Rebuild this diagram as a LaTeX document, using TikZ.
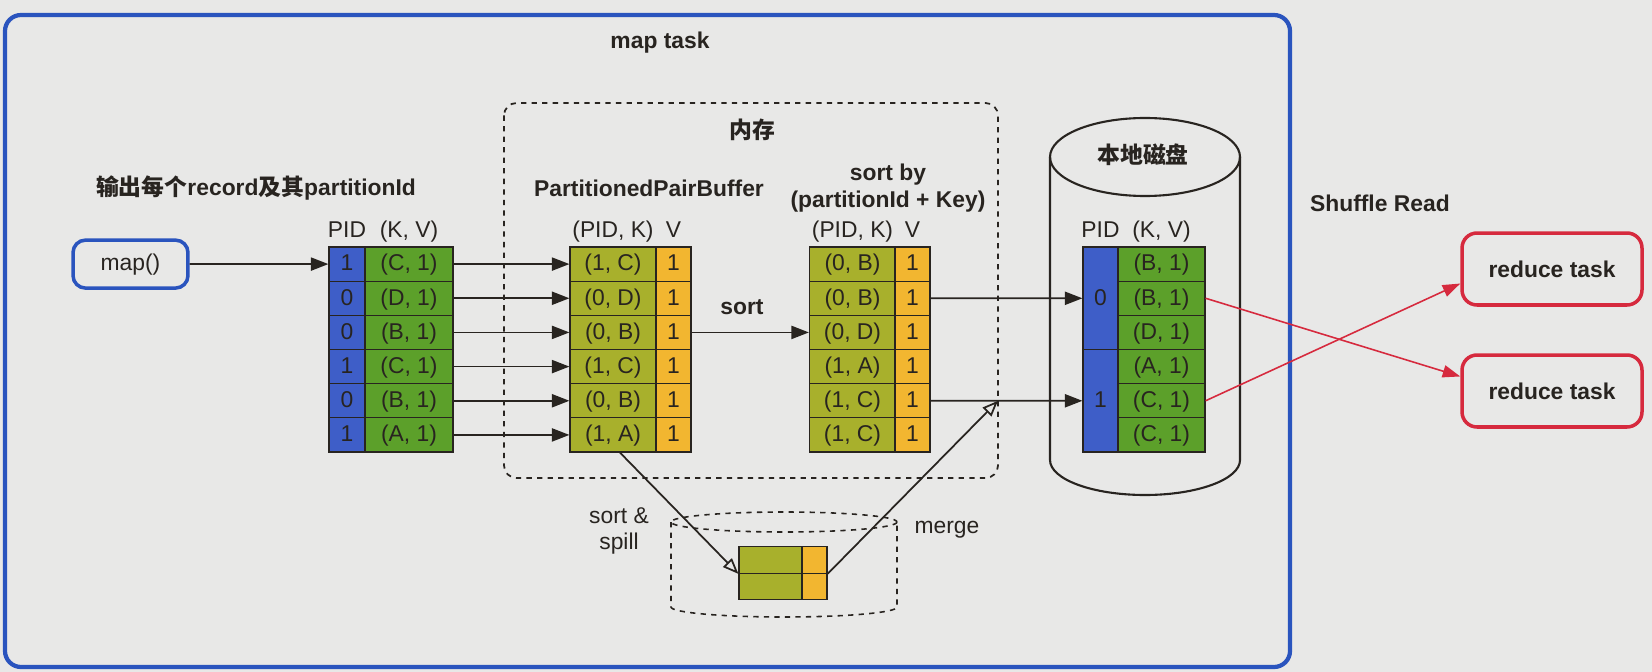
\documentclass[tikz,border=0pt]{standalone}
\usepackage{fontspec}
\setmainfont{Liberation Sans}
\newfontfamily\cjk{Noto Sans CJK SC Bold}
\usetikzlibrary{positioning,arrows.meta}
\definecolor{bgpaper}{RGB}{232,232,231}
\definecolor{frameblue}{RGB}{42,84,190}
\definecolor{pidblue}{RGB}{62,94,200}
\definecolor{kvgreen}{RGB}{92,160,42}
\definecolor{keyolive}{RGB}{168,176,44}
\definecolor{valorange}{RGB}{242,182,48}
\definecolor{taskred}{RGB}{214,42,62}
\definecolor{ink}{RGB}{40,36,32}
\tikzset{
  cell/.style={draw=ink, line width=0.7pt, inner sep=0pt, minimum height=0.683cm, text height=0.72em, text depth=0.12em, text=ink},
  pidcell/.style={cell, fill=pidblue, minimum width=0.72cm},
  kvcell/.style={cell, fill=kvgreen, minimum width=1.76cm},
  keycell/.style={cell, fill=keyolive, minimum width=1.72cm},
  valcell/.style={cell, fill=valorange, minimum width=0.70cm},
  hdr/.style={inner sep=1pt, text height=0.72em, text depth=0.22em, text=ink},
  lbl/.style={font=\bfseries, text=ink, align=center, inner sep=1pt},
  arr/.style={-{Triangle[length=10pt,width=7.5pt]}, line width=1pt, draw=ink},
  openarr/.style={-{Triangle[open,length=9pt,width=7pt,fill=bgpaper]}, line width=1pt, draw=ink},
  redarr/.style={-{Triangle[length=10pt,width=7pt]}, line width=0.9pt, draw=taskred, fill=taskred},
  taskbox/.style={draw=taskred, line width=2pt, rounded corners=0.3cm, minimum width=3.6cm, minimum height=1.44cm, font=\bfseries, text=ink}
}
\begin{document}
\fontsize{13}{15}\selectfont
\begin{tikzpicture}[x=0.02cm, y=-0.02cm]
  \useasboundingbox (0,0) rectangle (1652,672);
  \fill[bgpaper] (0,0) rectangle (1652,672);
  % frames
  \draw[frameblue, line width=2.4pt, rounded corners=0.32cm] (5,15) rectangle (1290,667);
  \draw[ink, dashed, line width=1pt, rounded corners=0.25cm] (504,103) rectangle (998,478);
  \draw[ink, line width=1.2pt] (1145,157) ellipse [x radius=95, y radius=39];
  \draw[ink, line width=1.2pt] (1050,157) -- (1050,460) arc[start angle=180, end angle=0, x radius=95, y radius=35] -- (1240,157);
  \draw[ink, dashed, line width=0.9pt] (784,522) ellipse [x radius=113, y radius=10];
  \draw[ink, dashed, line width=0.9pt] (671,522) -- (671,607) arc[start angle=180, end angle=0, x radius=113, y radius=10] -- (897,522);

  % labels
  \node[lbl] (maptask) at (660,43) {map task};
  \node[lbl] (mem) at (752,130) {\cjk 内存};
  \node[lbl] (outlbl) at (256,188) {{\cjk 输出每个}record{\cjk 及其}partitionId};
  \node[lbl] (buflbl) at (649,188) {PartitionedPairBuffer};
  \node[lbl] (sortlbl) at (888,188) {sort by\\(partitionId + Key)};
  \node[lbl] (disklbl) at (1143,155) {\cjk 本地磁盘};
  \node[lbl, anchor=west] (readlbl) at (1308,203) {Shuffle Read};
  \node[lbl] (sortop) at (742,307) {sort};
  \node[lbl, font=\mdseries] (spilllbl) at (619,531) {sort \&\\spill};
  \node[lbl, font=\mdseries] (mergelbl) at (947,530) {merge};

  \node[draw=frameblue, line width=2pt, rounded corners=0.25cm, minimum width=2.3cm, minimum height=0.96cm, text=ink] (map) at (130.5,264.1) {map()};
  \node[taskbox] (rt1) at (1552,269) {reduce task};
  \node[taskbox] (rt2) at (1552,391) {reduce task};

  % tables
  \foreach \p/\k [count=\i] in {1/C,0/D,0/B,1/C,0/B,1/A} {
    \node[pidcell] (p\i) at (347,{247+34.17*(\i-0.5)}) {\p};
    \node[kvcell] (kv\i) at (409,{247+34.17*(\i-0.5)}) {(\k, 1)};
    \node[keycell] (bk\i) at (613,{247+34.17*(\i-0.5)}) {(\p, \k)};
    \node[valcell] (bv\i) at (673.5,{247+34.17*(\i-0.5)}) {1};
  }
  \foreach \p/\k [count=\i] in {0/B,0/B,0/D,1/A,1/C,1/C} {
    \node[keycell] (sk\i) at (852.5,{247+34.17*(\i-0.5)}) {(\p, \k)};
    \node[valcell] (sv\i) at (912.5,{247+34.17*(\i-0.5)}) {1};
    \node[kvcell, minimum width=1.74cm] (dk\i) at (1161.5,{247+34.17*(\i-0.5)}) {(\k, 1)};
  }
  \node[pidcell, minimum width=0.70cm, minimum height=2.05cm] (d0) at (1100.5,298.3) {0};
  \node[pidcell, minimum width=0.70cm, minimum height=2.05cm] (d1) at (1100.5,400.8) {1};
  \node[keycell, minimum width=1.26cm, minimum height=0.53cm] (sm1) at (770.5,560) {};
  \node[valcell, minimum width=0.5cm, minimum height=0.53cm] (so1) at (814.5,560) {};
  \node[keycell, minimum width=1.26cm, minimum height=0.53cm] (sm2) at (770.5,586.5) {};
  \node[valcell, minimum width=0.5cm, minimum height=0.53cm] (so2) at (814.5,586.5) {};

  \node[hdr, above=1pt of p1] {PID};
  \node[hdr, above=1pt of kv1] {(K, V)};
  \node[hdr, above=1pt of bk1] {(PID, K)};
  \node[hdr, above=1pt of bv1] {V};
  \node[hdr, above=1pt of sk1] {(PID, K)};
  \node[hdr, above=1pt of sv1] {V};
  \node[hdr, above=1pt of d0] {PID};
  \node[hdr, above=1pt of dk1] {(K, V)};

  % connectors
  \coordinate (mg) at (998,400.8);
  \draw[arr] (map) -- (p1);
  \foreach \i in {1,...,6} \draw[arr] (kv\i) -- (bk\i);
  \draw[arr] (bv3) -- (sk3);
  \draw[arr] (sv2) -- (d0);
  \draw[arr] (sv5) -- (d1);
  \draw[openarr] ([xshift=0.14cm]bk6.south) -- (sm1.south west);
  \draw[openarr] (so1.south east) -- (mg);
  \draw[redarr] (dk2.east) -- (rt2.171);
  \draw[redarr] (dk5.east) -- (rt1.189);
\end{tikzpicture}
\end{document}
